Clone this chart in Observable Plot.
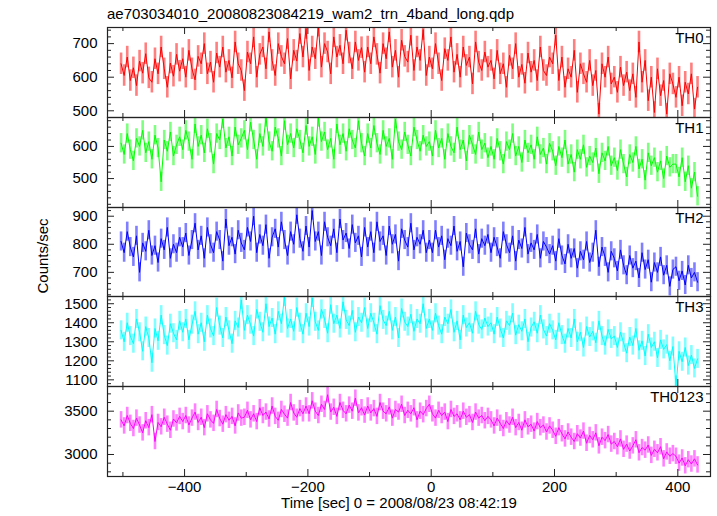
<!DOCTYPE html>
<html><head><meta charset="utf-8">
<script src="https://cdn.jsdelivr.net/npm/d3@7"></script>
<script src="https://cdn.jsdelivr.net/npm/@observablehq/plot@0.6"></script>
<style>
body{margin:0;background:#fff;}
#chart{position:relative;width:717px;height:516px;font-family:"Liberation Sans",Arial,Helvetica,sans-serif;color:#000;background:#fff;}
#chart svg{position:absolute;left:0;overflow:visible;}
.lbl{position:absolute;font-size:15px;line-height:15px;white-space:nowrap;}
</style></head><body><div id="chart"></div>
<script>
const title = "ae703034010_20080823084219_wam2_trn_4band_long.qdp";
const xLabel = "Time [sec] 0 = 2008/08/23 08:42:19";
const yLabel = "Counts/sec";
const bands = ["TH0", "TH1", "TH2", "TH3", "TH0123"];
const colors = ["#ff0000", "#00ff00", "#0000ff", "#00ffff", "#ff00ff"];

// light-curve bins: time of first bin and bin width (sec)
const T0 = -503, DT = 5;

const th0 = [
640,605,660,590,628,575,648,612,670,598,585,655,610,690,625,570,642,603,668,618,
655,600,680,625,592,662,640,700,610,645,585,672,630,690,615,650,598,705,640,620,
560,675,640,720,600,668,690,625,735,650,605,700,662,640,715,595,680,648,730,660,
745,620,690,655,752,630,700,675,610,720,660,695,640,740,672,625,705,650,688,615,
690,640,720,668,612,700,655,735,630,680,600,710,662,645,725,620,690,650,742,605,
660,625,700,640,590,685,650,720,615,668,600,690,635,660,580,705,645,620,675,630,
650,595,680,610,640,570,665,625,700,600,638,582,672,615,650,590,690,620,605,660,
640,725,590,660,570,625,600,680,555,640,610,585,650,575,620,490,640,600,660,580,
600,555,630,575,615,560,610,540,705,585,650,530,600,495,625,545,590,490,610,580,
540,600,515,585,550,610,505,570];
const th1 = [
610,575,640,590,555,625,600,650,580,615,560,635,595,490,620,585,645,570,605,630,
590,650,615,560,670,600,635,580,655,610,545,640,620,685,595,630,570,660,605,625,
650,590,675,620,560,640,600,690,615,585,660,625,570,680,605,640,595,655,620,580,
665,600,630,575,690,615,645,590,625,560,670,605,640,585,655,620,595,680,610,570,
640,595,665,610,575,650,600,625,560,685,615,590,645,605,570,660,620,585,635,600,
615,570,650,595,625,560,640,600,580,660,590,620,555,635,605,575,645,590,610,565,
600,560,625,585,545,615,590,640,570,600,550,620,580,605,560,630,575,595,545,610,
585,540,600,565,620,545,575,520,590,560,605,535,570,550,595,515,580,555,600,540,
565,525,590,545,505,575,550,600,530,560,495,580,540,565,520,555,500,570,535,545,
545,505,565,490,540,470,520,445];
const th2 = [
810,770,845,790,755,830,700,805,775,850,760,795,735,820,780,860,750,800,770,825,
790,840,760,815,875,780,830,750,860,800,770,845,815,740,890,795,825,765,850,805,
780,860,810,900,770,835,795,870,750,825,855,790,880,815,760,845,800,905,820,775,
865,790,920,810,845,760,880,825,795,855,770,890,815,840,785,870,805,830,755,860,
790,845,770,880,810,830,760,865,800,835,740,855,815,790,875,780,825,800,850,770,
815,770,850,790,830,745,820,795,865,775,810,720,840,800,780,855,765,820,795,835,
770,825,790,750,845,800,770,830,740,815,785,860,765,805,780,835,750,810,790,765,
795,740,820,760,730,800,750,785,715,775,745,810,735,770,850,720,790,755,700,775,
750,705,780,725,690,760,715,740,680,770,710,745,665,735,700,755,690,725,650,710,
720,670,705,655,725,680,700,665];
const th3 = [
1360,1300,1400,1330,1290,1420,1350,1250,1380,1320,1190,1370,1305,1440,1335,1280,1395,1345,1310,1410,
1350,1420,1310,1390,1460,1340,1400,1300,1440,1370,1330,1480,1385,1320,1430,1360,1290,1410,1375,1520,
1360,1440,1390,1330,1470,1405,1350,1500,1380,1425,1340,1460,1395,1535,1370,1420,1355,1480,1400,1340,
1450,1380,1530,1405,1360,1470,1420,1345,1495,1395,1440,1370,1510,1415,1385,1465,1350,1430,1400,1480,
1370,1450,1400,1340,1490,1415,1385,1460,1360,1430,1320,1475,1405,1380,1445,1355,1420,1395,1500,1370,
1420,1360,1450,1385,1340,1430,1395,1470,1350,1410,1310,1440,1375,1400,1345,1460,1390,1365,1425,1380,
1400,1340,1430,1370,1320,1410,1385,1450,1335,1390,1355,1420,1300,1375,1405,1345,1440,1365,1330,1395,
1360,1310,1400,1335,1290,1370,1320,1420,1300,1350,1270,1380,1325,1355,1295,1410,1330,1280,1365,1315,
1330,1270,1350,1295,1240,1325,1280,1370,1255,1305,1225,1340,1270,1300,1215,1310,1260,1285,1200,1275,
1070,1250,1195,1270,1175,1230,1160,1210];
const th0123 = [
3400,3330,3450,3360,3300,3420,3340,3250,3390,3310,3460,3150,3370,3320,3430,3350,3280,3410,3365,3440,
3380,3450,3340,3420,3490,3370,3430,3310,3470,3400,3360,3520,3415,3350,3460,3395,3440,3330,3480,3420,
3430,3510,3400,3470,3380,3540,3450,3490,3410,3560,3440,3395,3520,3465,3420,3600,3480,3430,3530,3470,
3560,3470,3620,3500,3450,3580,3520,3690,3490,3545,3440,3600,3510,3470,3570,3500,3650,3480,3540,3455,
3560,3480,3530,3440,3600,3500,3470,3550,3420,3520,3490,3580,3450,3510,3470,3540,3400,3500,3460,3530,
3580,3470,3420,3510,3450,3490,3380,3520,3440,3470,3400,3500,3430,3460,3370,3490,3420,3450,3390,3440,
3400,3330,3420,3360,3300,3390,3340,3430,3310,3370,3280,3400,3320,3350,3270,3380,3310,3340,3260,3330,
3280,3210,3310,3240,3180,3260,3200,3150,3240,3190,3270,3130,3220,3170,3250,3100,3200,3160,3230,3120,
3150,3090,3180,3060,3120,3040,3100,3170,3020,3080,3050,3110,2990,3060,3020,3090,2950,3030,2980,3010,
2980,2900,2960,2870,2940,2890,2950,2880];
// typical 1-sigma error per bin
const errs = [32, 30, 34, 50, 95];

const yDomains = [[480, 748], [410, 690], [614, 931], [1065, 1538], [2746, 3785]];
const yLabelTicks = [[500, 600, 700], [500, 600], [700, 800, 900], [1100, 1200, 1300, 1400, 1500], [3000, 3500]];
const yMinorStep = [20, 20, 20, 20, 100];
const xDomain = [-525, 453];
const xLabelTicks = [-400, -200, 0, 200, 400];
const xMinorStep = 100;

// layout
const panelTops = [27, 117, 207, 296, 386];
const panelBottom = 476;
const W = 717, ML = 107, MR = 7;
const innerW = W - ML - MR;
const majorLen = 7, minorLen = 4;

const series = [th0, th1, th2, th3, th0123];
const fmt = d => d < 0 ? "\u2212" + Math.abs(d) : String(d);
const chart = document.getElementById("chart");
const ink = "#222";

series.forEach((vals, k) => {
  const data = vals.map((v, i) => ({t: T0 + i * DT, v}));
  const top = panelTops[k];
  const innerH = (k < series.length - 1 ? panelTops[k + 1] : panelBottom) - top;
  const isLast = k === series.length - 1;
  const mb = isLast ? 40 : 0;
  const [lo, hi] = yDomains[k];
  const step = yMinorStep[k];
  const yAll = d3.range(Math.ceil(lo / step) * step, hi + 0.001, step);
  const yMinor = yAll.filter(v => !yLabelTicks[k].includes(v));
  const xAll = d3.range(Math.ceil(xDomain[0] / xMinorStep) * xMinorStep, xDomain[1] + 0.001, xMinorStep);
  const xMinor = xAll.filter(v => !xLabelTicks.includes(v));
  const err = errs[k];
  const color = colors[k];
  const marks = [
    Plot.ruleX(data, {x: "t", y1: d => d.v - err, y2: d => d.v + err, stroke: color, strokeOpacity: 0.5, strokeWidth: 2.6, clip: true}),
    Plot.line(data, {x: "t", y: "v", stroke: color, strokeWidth: 1, clip: true}),
    Plot.tickY(yLabelTicks[k], {y: d => d, insetRight: innerW - majorLen, stroke: ink}),
    Plot.tickY(yLabelTicks[k], {y: d => d, insetLeft: innerW - majorLen, stroke: ink}),
    Plot.tickY(yMinor, {y: d => d, insetRight: innerW - minorLen, stroke: ink}),
    Plot.tickY(yMinor, {y: d => d, insetLeft: innerW - minorLen, stroke: ink}),
    Plot.tickX(xLabelTicks, {x: d => d, insetBottom: innerH - majorLen, stroke: ink}),
    Plot.tickX(xLabelTicks, {x: d => d, insetTop: innerH - majorLen, stroke: ink}),
    Plot.tickX(xMinor, {x: d => d, insetBottom: innerH - minorLen, stroke: ink}),
    Plot.tickX(xMinor, {x: d => d, insetTop: innerH - minorLen, stroke: ink}),
    Plot.axisY({anchor: "left", ticks: yLabelTicks[k], tickSize: 0, tickPadding: 10, tickFormat: fmt, label: null, fill: "#000"}),
    Plot.text([bands[k]], {text: d => d, frameAnchor: "top-right", textAnchor: "end", lineAnchor: "top", dx: -7, dy: 5, fontSize: 15, fill: "#000"}),
    Plot.frame({stroke: ink, strokeWidth: 1.2})
  ];
  if (isLast) marks.push(Plot.axisX({anchor: "bottom", ticks: xLabelTicks, tickSize: 0, tickPadding: 5, tickFormat: fmt, label: null, fill: "#000"}));
  const svg = Plot.plot({
    width: W, height: innerH + mb,
    marginLeft: ML, marginRight: MR, marginTop: 0, marginBottom: mb,
    x: {domain: xDomain, label: null, axis: null},
    y: {domain: yDomains[k], label: null, axis: null},
    style: {fontFamily: '"Liberation Sans", Arial, Helvetica, sans-serif', fontSize: "15px", background: "transparent", overflow: "visible"},
    marks
  });
  svg.style.top = top + "px";
  chart.appendChild(svg);
});

function addLabel(text, css) {
  const d = document.createElement("div");
  d.className = "lbl";
  d.textContent = text;
  Object.assign(d.style, css);
  chart.appendChild(d);
}
addLabel(title, {left: "107px", top: "6px"});
addLabel(xLabel, {left: "399px", top: "495px", transform: "translateX(-50%)"});
addLabel(yLabel, {left: "42px", top: "256px", transform: "translate(-50%,-50%) rotate(-90deg)"});
</script></body></html>
